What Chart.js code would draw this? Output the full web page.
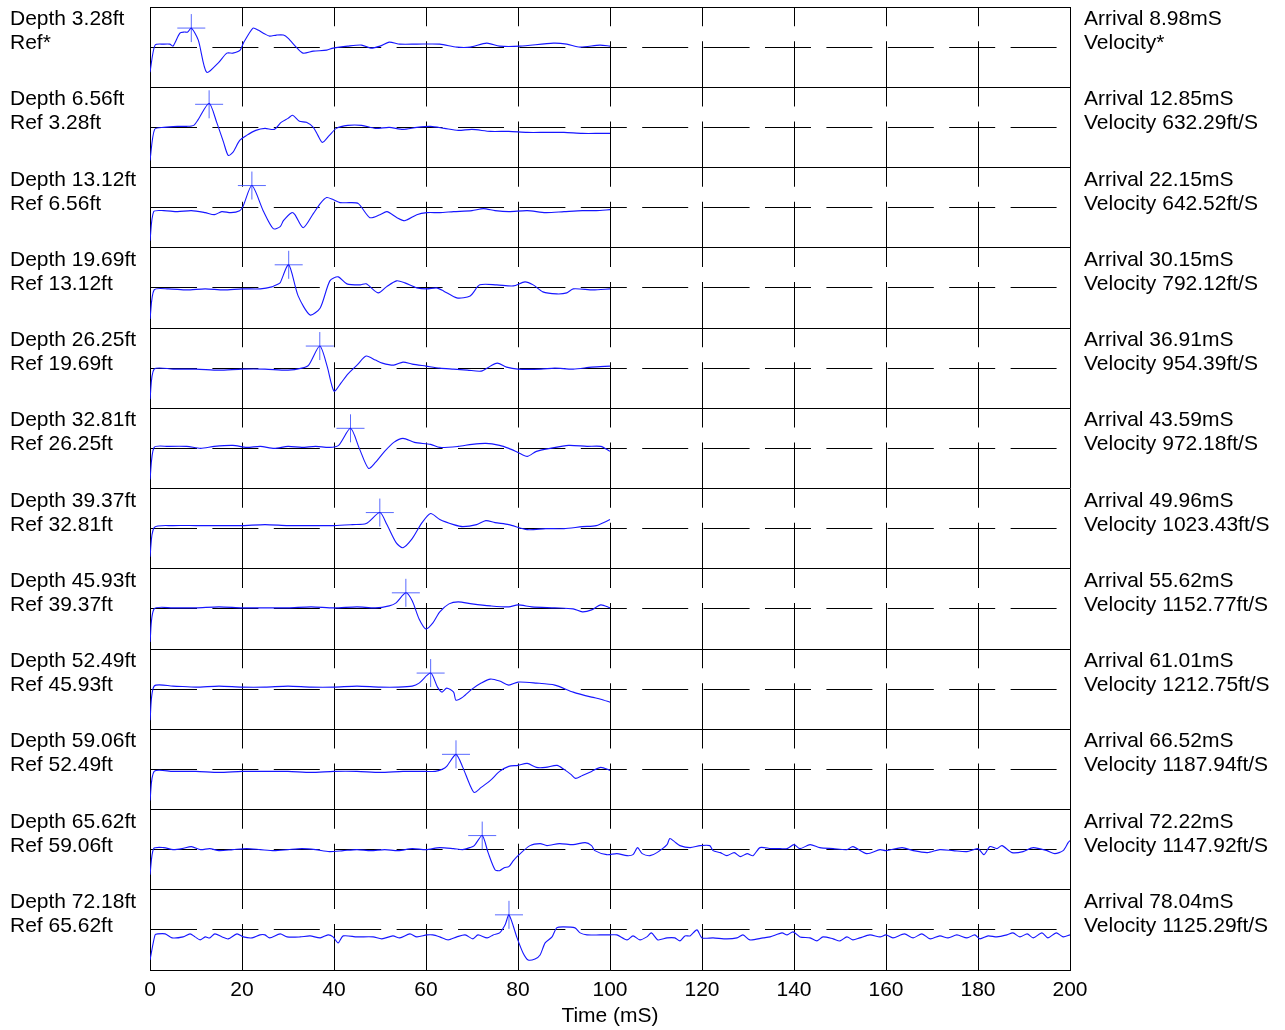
<!DOCTYPE html>
<html>
<head>
<meta charset="utf-8">
<script src="https://cdn.jsdelivr.net/npm/chart.js@4.4.0/dist/chart.umd.min.js"></script>
<style>
  body { margin: 0; background: #fff; }
  #wrap { position: relative; width: 1285px; height: 1030px; }
  .lab { position: absolute; font: 21px "Liberation Sans", Arial, sans-serif; line-height: 24px; color: #000; white-space: nowrap; }
</style>
</head>
<body>
<div id="wrap"><canvas id="chart" width="1285" height="1030"></canvas></div>
<script>
// panel labels
const depths = ['3.28', '6.56', '13.12', '19.69', '26.25', '32.81', '39.37', '45.93', '52.49', '59.06', '65.62', '72.18'];
const refs = ['*', '3.28', '6.56', '13.12', '19.69', '26.25', '32.81', '39.37', '45.93', '52.49', '59.06', '65.62'];
const arrivals = [8.98, 12.85, 22.15, 30.15, 36.91, 43.59, 49.96, 55.62, 61.01, 66.52, 72.22, 78.04];
const velocities = ['*', '632.29', '642.52', '792.12', '954.39', '972.18', '1023.43', '1152.77', '1212.75', '1187.94', '1147.92', '1125.29'];
// amplitude of the picked peak (same units as traces)
const peaks = [19, 23, 22, 23, 22, 20, 16, 16, 16, 15, 14, 15];
const timeTicks = [0, 20, 40, 60, 80, 100, 120, 140, 160, 180, 200];

// traces: [time mS, amplitude]
const trace1 = [[0,-25],[1.1,2],[3,3],[4.3,3],[5,1],[6.5,14],[7.5,15],[8.2,15],[9,19],[10.5,7],[12.3,-25],[14.8,-16],[16.7,-6],[18,-6],[19.6,-3],[20.3,4],[22.4,19],[23.5,17],[25,13],[26,11],[27.5,12],[29,12],[30,9],[32,-1],[33.3,-6],[35.5,-4],[38.4,-3],[39.8,-1],[43,1],[46,2],[48,-1],[50,1],[52,5],[54.3,3],[58,3],[63,3],[66.7,0],[69.6,0],[73.2,4],[76,1],[80.4,1],[87.7,4],[90.6,3],[93.5,0],[97.8,2],[100,1]];
const trace2 = [[0,-33],[1,-2],[3,0],[6,1],[8,1],[9.5,2],[10.5,8],[12.85,24],[14.5,5],[16,-15],[17,-28],[18,-25],[19.5,-13],[21,-8],[23,-3],[25,-1],[27,-2],[28.5,5],[30,9],[31,12],[32.5,6],[34,5],[35.5,0],[36.5,-8],[37.5,-15],[39,-8],[40.5,-1],[43,2],[46,2],[49,-1],[52,0],[55,-2],[58,0],[61,1],[64,-1],[67,-3],[70,-2],[74,-4],[78,-4],[82,-5],[86,-5],[90,-5],[94,-6],[98,-6],[100,-6]];
const trace3 = [[0,-33],[0.8,-4],[3,-3],[6,-4],[9,-3],[12,-5],[14,-7],[15.6,-4],[17.6,-5],[19.5,-3],[20.2,1],[22.15,22],[24.6,-3],[26.8,-21],[28.3,-19],[29,-13],[30.8,-5],[31.5,-7],[33.3,-20],[35.5,-6],[37,4],[38.4,10],[39.8,8],[41.3,5],[43.5,5],[45.3,4],[47.8,-10],[50,-7],[51.5,-4],[53.7,-10],[55.4,-13],[58,-7],[60.2,-5],[63,-5],[66,-4],[70,-3],[72.5,-1],[75,-3],[78,-4],[82,-3],[86,-5],[90,-4],[94,-3],[97,-3],[100,-2]];
const trace4 = [[0,-31],[0.9,-2],[4,-1],[8,-2],[12,-1],[16,-2],[20,-1],[24,-1],[26.5,1],[28,4],[28.3,5],[30.15,23],[32.2,-8],[34.8,-27],[37,-20],[39.1,7],[40.9,11],[42.8,4],[45.7,3],[47,4],[49.6,-5],[51.4,1],[53.6,7],[55.4,5],[58,0],[60.2,-1],[62.3,0],[63.8,-3],[66.7,-10],[69.6,-8],[71.7,3],[75.4,3],[79,2],[81.5,6],[83.3,3],[85.4,-4],[88.4,-6],[90.6,-5],[92,-1],[96.3,-2],[100,-1]];
const trace5 = [[0,-31],[0.9,-1],[5,-1],[10,-1],[15,-2],[20,-1],[25,-1],[30,-2],[33,0],[34.5,3],[36.91,22],[38.5,2],[40,-23],[41.5,-15],[43,-6],[45,3],[47,12],[49,8],[50.5,5],[53,3],[55,6],[57,4],[60,2],[63,0],[66,-1],[69,-2],[72,-3],[74,2],[75.5,5],[77.5,1],[80,-1],[85,-1],[88,0],[92,-1],[96,1],[100,2]];
const trace6 = [[0,-31],[0.9,1],[4,2],[8,2],[11,0],[14,2],[18,3],[21,1],[24,2],[27,0],[30,2],[33,1],[36,2],[39,1],[41,3],[43.59,20],[45.5,0],[47.5,-20],[49,-14],[51,-3],[53,6],[55,10],[57.5,6],[61,4],[63,1],[67,2],[70,4],[73,5],[76,3],[78,0],[80,-4],[82,-8],[84,-3],[87,0],[91,3],[95,2],[98,2],[100,-3]];
const trace7 = [[0,-28],[0.9,1],[5,3],[10,3],[15,3],[20,3],[25,4],[30,3],[35,3],[40,3],[44,4],[47,5],[49.96,16],[51.5,4],[53.5,-14],[55,-19],[57,-10],[59,5],[61,15],[63,9],[66,4],[68,2],[71,4],[73,8],[75,6],[78,4],[82,-1],[86,0],[90,0],[94,2],[97,3],[100,9]];
const trace8 = [[0,-33],[0.9,0],[5,1],[10,1],[15,2],[20,1],[25,1],[30,1],[35,2],[40,1],[45,2],[49,1],[52,3],[53.5,6],[55.62,16],[57,8],[58.5,-10],[60,-20],[61.5,-14],[63,-3],[65,5],[67,7],[70,5],[74,3],[78,2],[80,4],[83,2],[88,1],[92,0],[94,-3],[96,-1],[98,4],[100,1]];
const trace9 = [[0,-31],[0.9,3],[5,3],[10,2],[15,3],[20,2],[25,2],[30,3],[35,2],[40,2],[45,3],[50,2],[54,2],[57,3],[58.5,6],[61.01,16],[62.5,2],[63.5,-3],[64.5,1],[66,-3],[66.5,-11],[68,-8],[70,0],[72,6],[74,10],[76,8],[78,4],[80,7],[84,6],[88,4],[92,-3],[96,-8],[98,-10],[100,-13]];
const trace10 = [[0,-31],[0.9,-2],[5,-2],[10,-2],[15,-3],[20,-2],[25,-2],[30,-2],[35,-3],[40,-2],[45,-2],[50,-3],[55,-2],[60,-2],[62,-2],[63.5,0],[64.5,3],[66.52,15],[68,2],[69.5,-15],[70.5,-23],[72,-18],[74,-11],[76,-2],[78,3],[80,4],[82,6],[84,2],[86,2],[88.5,4],[90,0],[91.5,-5],[92.5,-9],[94,-6],[96,-2],[98,2],[100,-1]];
const trace11 = [[0,-25],[0.8,1],[3,2],[5,0],[7,1],[9,3],[11,0],[13,1],[15,-1],[18,0],[21,1],[24,0],[27,-1],[30,0],[33,1],[36,0],[39,-2],[42,-1],[45,0],[48,-1],[51,0],[54,-1],[57,1],[60,0],[63,2],[66,1],[68,0],[69.5,2],[70.5,4],[72.22,14],[73.5,-3],[75,-20],[76,-21],[77,-18],[78,-17],[79,-11],[80,-6],[82.6,4],[84.8,6],[86.3,4],[89,6],[92,5],[94.6,7],[96,4],[96.7,-1],[99.3,-5],[101.5,-4],[103.7,-6],[105,-5],[106,2],[107,-4],[108.7,-6],[110.2,-3],[112.4,5],[113,11],[114,8],[115.2,4],[117.4,2],[119.6,4],[121.7,4],[122.4,-1],[124,-3],[125.4,-6],[127,-3],[128.3,-7],[129.8,-4],[131.1,-6],[132.6,2],[135,1],[137,1],[138.5,1],[140,5],[141.3,1],[143.5,5],[145.6,2],[148.5,1],[151.5,0],[152.8,3],[155.8,-4],[158.7,0],[160,-1],[163.5,2],[165.9,-1],[169,-3],[171.7,0],[174.6,-1],[177.6,-2],[180,1],[181.3,-5],[182.6,3],[184.1,1],[185.2,4],[187.4,-3],[189.8,-2],[192,2],[195,-1],[196.7,-4],[198.5,-1],[199.6,7],[200,9]];
const trace12 = [[0,-30],[1.1,-5],[1.7,-4],[3.3,-4],[4.8,-8],[7.2,-7],[8.7,-4],[9.8,-7],[10.9,-10],[12,-7],[13,-8],[14.1,-4],[15.7,-7],[17,-9],[18.9,-4],[20.3,-7],[22.2,-8],[23.9,-5],[25,-5],[26,-8],[28.3,-4],[29.8,-7],[32.6,-7],[34.8,-6],[37,-8],[38.7,-5],[39.8,-7],[40.9,-13],[42,-6],[45,-7],[48.5,-7],[50.4,-9],[52.8,-6],[54.3,-8],[56.5,-4],[58,-7],[60.2,-5],[61.5,-5],[63,-7],[64.8,-10],[66.7,-7],[68.5,-5],[70.2,-9],[71.3,-5],[73.3,-8],[74.6,-5],[76,-3],[77.2,5],[78.04,15],[79.8,-8],[81.1,-23],[82.2,-30],[83.7,-29],[84.8,-25],[85.9,-13],[87.4,-7],[88.4,2],[89.8,3],[92.4,2],[93.5,-3],[95,-5],[97.8,-5],[100,-5],[101.5,-5],[103.7,-10],[105,-6],[106.5,-10],[108,-7],[109,-3],[110.4,-10],[112.4,-8],[114.1,-8],[115.2,-11],[116.3,-6],[117.4,-6],[118.9,0],[120,-8],[122.4,-8],[125.4,-9],[127.6,-8],[128.9,-5],[130.4,-10],[133.3,-8],[134.8,-7],[137.4,-3],[138.5,-5],[139.8,-2],[141.3,-7],[143.5,-8],[145,-11],[146.3,-7],[148.5,-9],[150,-11],[151.5,-7],[152.8,-10],[154.3,-8],[156.5,-5],[158.7,-7],[160,-5],[161.5,-8],[164,-4],[165.9,-8],[167.8,-4],[169.6,-9],[171.7,-6],[173.5,-8],[175.4,-5],[177.6,-8],[179.3,-5],[180.4,-9],[182.2,-6],[184.1,-7],[186.3,-5],[187.6,-3],[189.1,-7],[190.7,-4],[192,-8],[193.9,-3],[195.2,-8],[197,-3],[198.5,-7],[200,-5]];
const traces = [trace1, trace2, trace3, trace4, trace5, trace6, trace7, trace8, trace9, trace10, trace11, trace12];

const FONT = {family: '"Liberation Sans", Arial, sans-serif', size: 21};
const TOP = 7, PANEL_H = 80.25;

// text beside each panel
var wrap = document.getElementById('wrap');
for (let i = 0; i < depths.length; i++) {
    let top = TOP + i * PANEL_H - 1;
    let l = document.createElement('div');
    l.className = 'lab';
    l.style.left = '10px';
    l.style.top = top + 'px';
    l.innerHTML = 'Depth ' + depths[i] + 'ft<br>' + (refs[i] == '*' ? 'Ref*' : 'Ref ' + refs[i] + 'ft');
    wrap.appendChild(l);
    let r = document.createElement('div');
    r.className = 'lab';
    r.style.left = '1084px';
    r.style.top = top + 'px';
    r.innerHTML = 'Arrival ' + arrivals[i].toFixed(2) + 'mS<br>' + (velocities[i] == '*' ? 'Velocity*' : 'Velocity ' + velocities[i] + 'ft/S');
    wrap.appendChild(r);
}

var scales = {
    x: {
        type: 'linear', min: 0, max: 200,
        afterBuildTicks: (s) => { s.ticks = timeTicks.map(v => ({value: v})); },
        ticks: {font: FONT, color: '#000', padding: 8, maxRotation: 0},
        grid: {color: '#000', drawTicks: false, lineWidth: 1},
        border: {
            color: '#000',
            dash: (ctx) => (ctx.tick && ctx.tick.value > 0 && ctx.tick.value < 200) ? [65.25, 15] : [],
            dashOffset: 46
        },
        title: {display: true, text: 'Time (mS)', font: FONT, color: '#000', padding: {top: 0, bottom: 1}},
        afterFit: (s) => { s.height = 60; }
    }
};
var datasets = [];
traces.forEach((tr, i) => {
    scales['y' + i] = {
        type: 'linear', position: 'left', stack: 'panels', stackWeight: 1, weight: 20 - i,
        min: -40, max: 40,
        ticks: {display: false, stepSize: 40},
        grid: {color: '#000', drawTicks: false, lineWidth: 1},
        border: {color: '#000', dash: (ctx) => (ctx.tick && ctx.tick.value === 0) ? [46, 15.4] : []},
        afterFit: (s) => { s.width = 0; s.paddingTop = 0; s.paddingBottom = 0; }
    };
    datasets.push({
        type: 'line',
        data: tr.map(p => ({x: p[0], y: p[1]})),
        yAxisID: 'y' + i,
        borderColor: '#1616ff',
        borderWidth: 1.1,
        pointRadius: 0,
        tension: 0.25,
        fill: false
    });
    datasets.push({
        type: 'scatter',
        data: [{x: arrivals[i], y: peaks[i]}],
        yAxisID: 'y' + i,
        pointStyle: 'cross',
        pointRadius: 14,
        borderColor: 'rgba(60,80,255,0.85)',
        borderWidth: 1,
        showLine: false
    });
});

var ctx = document.getElementById('chart').getContext('2d');
var myChart = new Chart(ctx, {
    type: 'line',
    data: {datasets: datasets},
    options: {
        responsive: false,
        animation: false,
        layout: {autoPadding: false, padding: {left: 150, right: 215, top: 7, bottom: 0}},
        plugins: {legend: {display: false}, tooltip: {enabled: false}},
        scales: scales
    }
});
</script>
</body>
</html>
